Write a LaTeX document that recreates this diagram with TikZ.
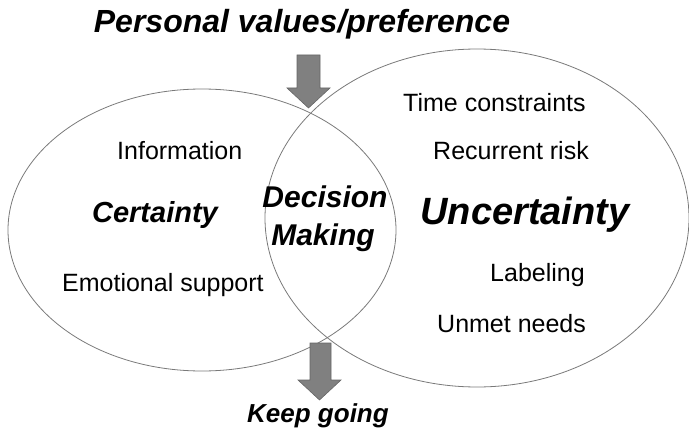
\documentclass[tikz,border=0pt]{standalone}
\usepackage{fontspec}
\setmainfont{Liberation Sans}
\usetikzlibrary{shapes}
\usepackage{xcolor}

\begin{document}
\begin{tikzpicture}[x=1pt,y=-1pt]
    \tikzstyle{ring}=[draw=gray!95!black, line width=0.8pt]
    \tikzstyle{blockarrow}=[fill=gray!95!black!95, draw=gray!80!black, line width=0.6pt]
    \tikzstyle{item}=[inner sep=0pt, font=\fontsize{25}{30}\selectfont, anchor=base west]
    \tikzstyle{head}=[inner sep=0pt, font=\fontsize{32}{38}\selectfont\bfseries\itshape, anchor=base]
    \useasboundingbox (0,0) rectangle (689,428);
    \draw[ring] (202,230) ellipse [x radius=194, y radius=141];
    \draw[ring] (477,218) ellipse [x radius=212, y radius=169];
    \draw[blockarrow] (297,55) -- (320,55) -- (320,88) -- (330,88) -- (308.5,108) -- (287,88) -- (297,88) -- cycle;
    \draw[blockarrow] (310,343) -- (331,343) -- (331,380) -- (341,380) -- (319.5,400) -- (298,380) -- (310,380) -- cycle;
    \node[head] (pref) at (302,33) {Personal values/preference};
    \node[head, font=\fontsize{26}{30}\selectfont\bfseries\itshape] (keep) at (318,422) {Keep going};
    \node[head, font=\fontsize{29}{34}\selectfont\bfseries\itshape] (cert) at (155,222) {Certainty};
    \node[head, font=\fontsize{38}{44}\selectfont\bfseries\itshape] (uncert) at (525,224) {Uncertainty};
    \node[head, font=\fontsize{30}{38}\selectfont\bfseries\itshape] (dec) at (325,207) {Decision};
    \node[head, font=\fontsize{30}{38}\selectfont\bfseries\itshape] (mak) at (323,245) {Making};
    \node[item] (info) at (117,159) {Information};
    \node[item] (emo) at (62,291) {Emotional support};
    \node[item] (time) at (403,111) {Time constraints};
    \node[item] (risk) at (433,159) {Recurrent risk};
    \node[item] (lab) at (490,281) {Labeling};
    \node[item] (unmet) at (437,332) {Unmet needs};
\end{tikzpicture}
\end{document}
